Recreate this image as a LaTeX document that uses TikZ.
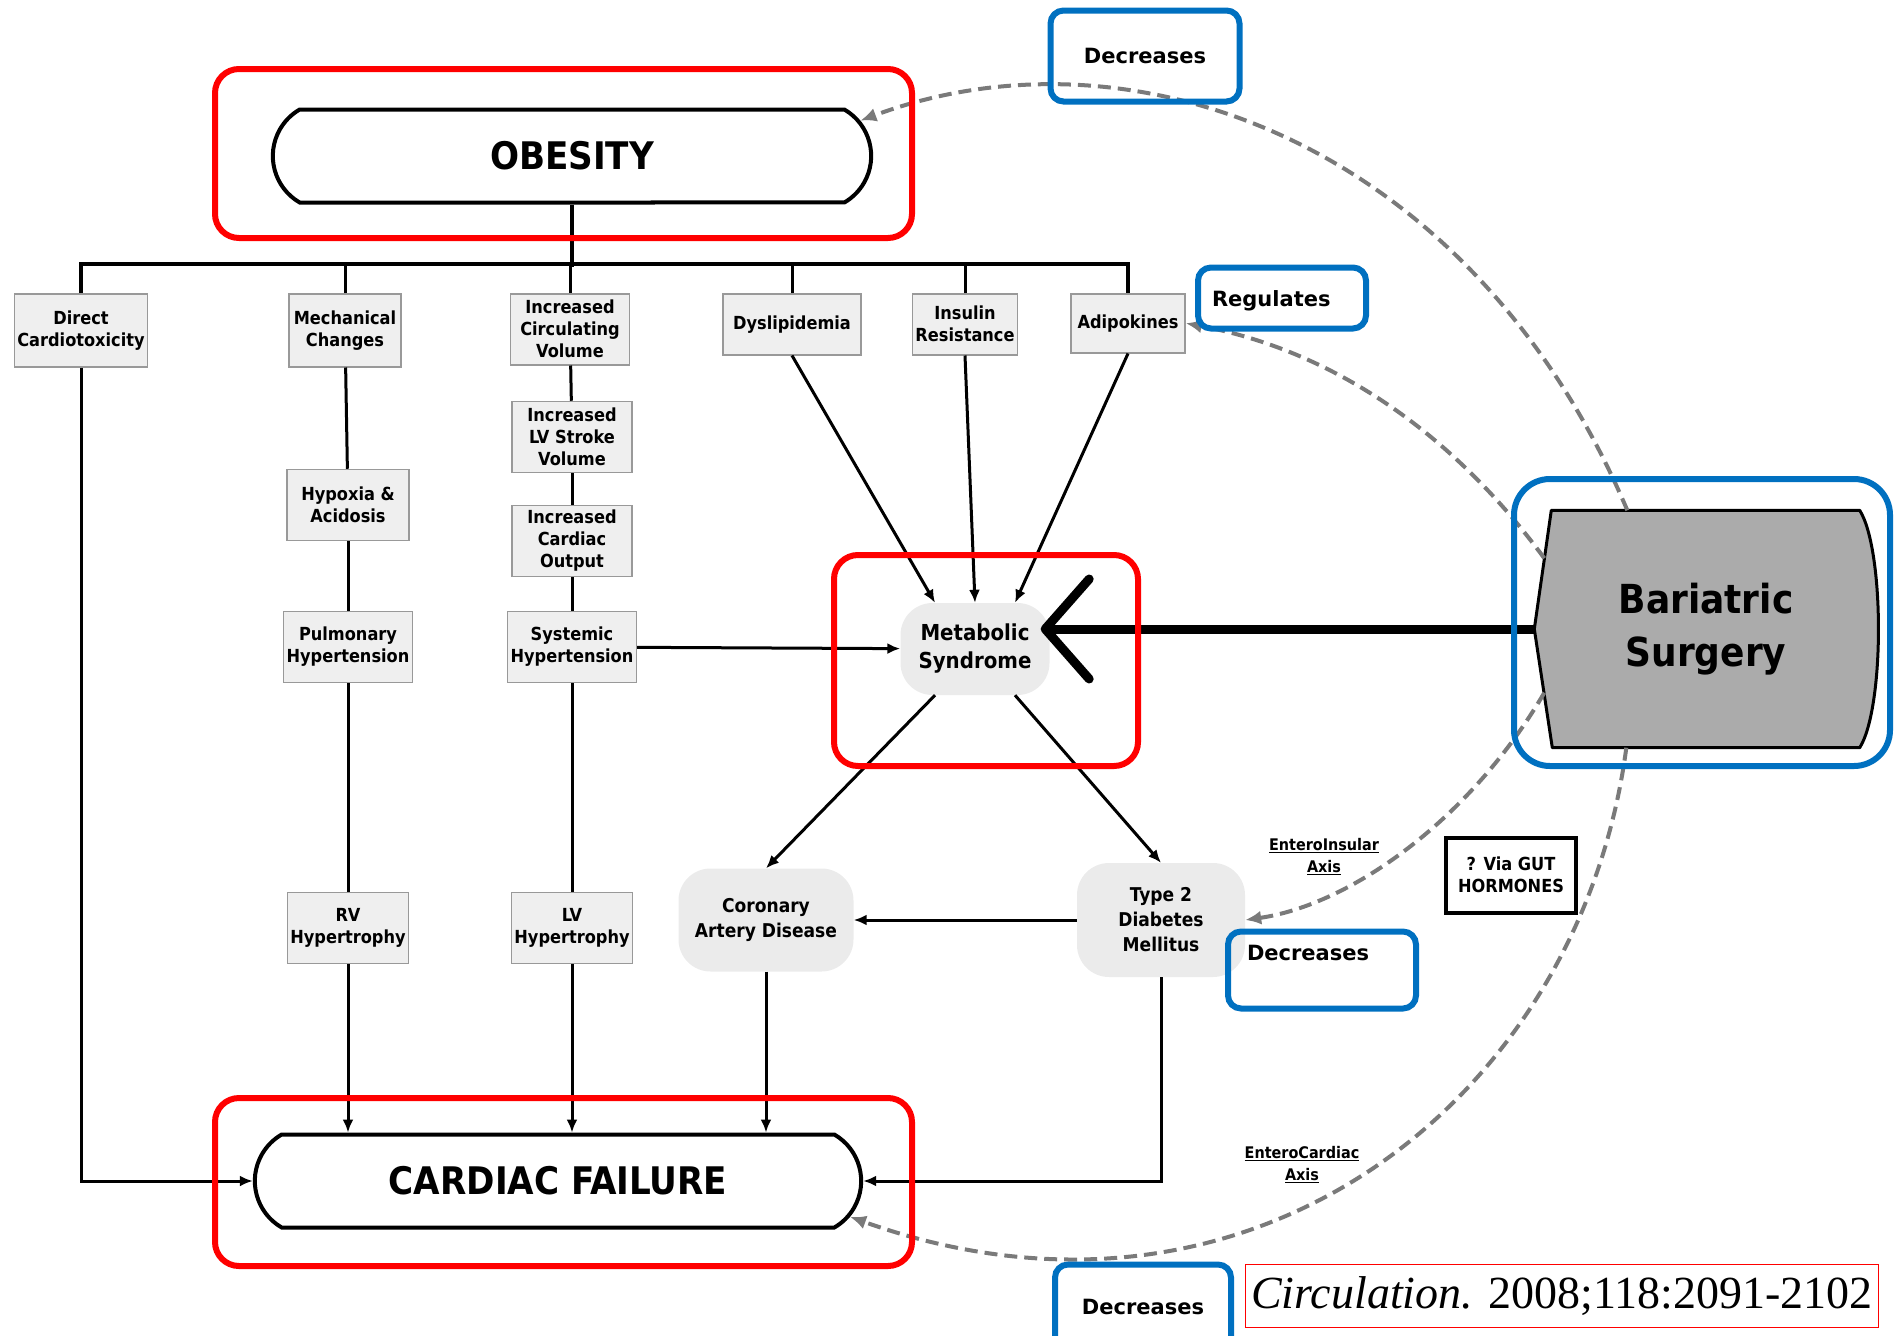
\documentclass[tikz,border=0pt]{standalone}
\usepackage{fontspec}
\setmainfont{DejaVu Sans}
\newfontfamily\condfont{DejaVu Sans Condensed}
\newfontfamily\citefont{Liberation Serif}
\usetikzlibrary{arrows.meta, positioning, shapes.misc}
\pgfdeclarelayer{background}
\pgfsetlayers{background,main}

\definecolor{boxgray}{HTML}{EFEFEF}
\definecolor{edgegray}{HTML}{999999}
\definecolor{blobgray}{HTML}{EBEBEB}
\definecolor{surgerygray}{HTML}{ABABAB}
\definecolor{dashgray}{HTML}{7A7A7A}
\definecolor{markblue}{HTML}{0070C0}
\definecolor{markred}{HTML}{FF0000}

\tikzstyle{factor} = [rectangle, draw=edgegray, line width=1.5pt, fill=boxgray, align=center, inner sep=3pt, minimum height=71pt, font=\condfont\bfseries\fontsize{18}{22}\selectfont]
\tikzstyle{blob} = [rectangle, fill=blobgray, rounded corners=32pt, align=center, font=\condfont\bfseries\fontsize{19}{25}\selectfont]
\tikzstyle{stadium} = [rounded rectangle, rounded rectangle arc length=120, draw, line width=4pt, fill=white, minimum height=93pt, font=\condfont\bfseries\fontsize{38}{44}\selectfont]
\tikzstyle{link} = [line width=3pt]
\tikzstyle{arrow} = [line width=3pt, -{Latex[length=13pt,width=11pt]}]
\tikzstyle{effect} = [dashgray, line width=4pt, dash pattern=on 13pt off 7pt, -{Latex[length=16pt,width=14pt]}]
\tikzstyle{bluetag} = [draw=markblue, line width=6pt, rounded corners=13pt, align=center, font=\bfseries\fontsize{21}{25}\selectfont]
\tikzstyle{redframe} = [draw=markred, line width=6pt, rounded corners=24pt]
\tikzstyle{axislabel} = [align=center, font=\condfont\bfseries\fontsize{16}{22}\selectfont]

\begin{document}
\begin{tikzpicture}[x=1pt, y=1pt]
        \useasboundingbox (0,0) rectangle (1901,-1336);

        % Main nodes
        \node (obesity) [stadium, minimum width=605pt] at (572,-156) {OBESITY};
        \node (cardiac) [stadium, minimum width=613pt] at (558,-1181) {CARDIAC FAILURE};

        % Factors hanging from the bus
        \node (direct) [factor, anchor=north, minimum width=132pt, minimum height=73pt] at (81,-293) {Direct\\Cardiotoxicity};
        \node (mech) [factor, anchor=north, minimum width=112pt, minimum height=73pt] at (345,-293) {Mechanical\\Changes};
        \node (circ) [factor, anchor=north, minimum width=119pt] at (570,-293) {Increased\\Circulating\\Volume};
        \node (dys) [factor, anchor=north, minimum width=138pt, minimum height=61pt] at (792,-293) {Dyslipidemia};
        \node (insulin) [factor, anchor=north, minimum width=102pt, minimum height=61pt] at (965,-293) {Insulin\\Resistance};
        \node (adipo) [factor, anchor=north, minimum width=114pt, minimum height=59pt] at (1128,-293) {Adipokines};

        % Columns
        \node (hypoxia) [factor, minimum width=122pt] at (348,-505) {Hypoxia \&\\Acidosis};
        \node (pulm) [factor, minimum width=128pt] at (348,-647) {Pulmonary\\Hypertension};
        \node (rv) [factor, minimum width=118pt] at (348,-928) {RV\\Hypertrophy};
        \node (stroke) [factor, minimum width=120pt] at (572,-437) {Increased\\LV Stroke\\Volume};
        \node (output) [factor, minimum width=120pt] at (572,-541) {Increased\\Cardiac\\Output};
        \node (systemic) [factor, minimum width=127pt] at (572,-647) {Systemic\\Hypertension};
        \node (lv) [factor, minimum width=120pt] at (572,-928) {LV\\Hypertrophy};

        % Metabolic cluster
        \node (metabolic) [blob, minimum width=149pt, minimum height=92pt, font=\condfont\bfseries\fontsize{22}{28}\selectfont] at (975,-649) {Metabolic\\Syndrome};
        \node (coronary) [blob, minimum width=175pt, minimum height=103pt] at (766,-920) {Coronary\\Artery Disease};
        \node (type2) [blob, minimum width=168pt, minimum height=114pt] at (1161,-920) {Type 2\\Diabetes\\Mellitus};

        % Bariatric surgery
        \node (bariatric) [minimum width=343pt, minimum height=237pt, align=center, font=\condfont\bfseries\fontsize{40}{53}\selectfont] at (1706,-629) {Bariatric\\Surgery};
        \begin{pgfonlayer}{background}
        \draw [fill=surgerygray, line width=3pt, line join=round] ([xshift=17pt]bariatric.north west) -- ([xshift=-18pt]bariatric.north east) .. controls ([xshift=7pt,yshift=-40pt]bariatric.north east) and ([xshift=7pt,yshift=40pt]bariatric.south east) .. ([xshift=-18pt]bariatric.south east) -- ([xshift=18pt]bariatric.south west) -- (bariatric.west) -- cycle;
        \end{pgfonlayer}

        % Bus
        \draw [link, line width=4.5pt] (obesity.south) -- ++(0,-62);
        \draw [link, line width=4.5pt] (direct.north) -- ++(0,29) -| (adipo.north);
        \foreach \f in {mech, circ, dys, insulin} \draw [link] (\f.north) -- ++(0,29);

        % Chains down to cardiac failure
        \draw [link] (mech) -- (hypoxia);
        \draw [link] (hypoxia) -- (pulm);
        \draw [link] (pulm) -- (rv);
        \draw [link] (circ) -- (stroke);
        \draw [link] (stroke) -- (output);
        \draw [link] (output) -- (systemic);
        \draw [link] (systemic) -- (lv);
        \draw [arrow] (rv) -- (rv |- cardiac.north);
        \draw [arrow] (lv) -- (lv |- cardiac.north);
        \draw [arrow] (coronary) -- (coronary |- cardiac.north);
        \draw [arrow] (direct.south) |- (cardiac.west);
        \draw [arrow] (type2.south) |- (cardiac.east);

        % Arrows around metabolic syndrome
        \draw [arrow] (dys.south) -- ([xshift=-40pt]metabolic.north);
        \draw [arrow] (insulin.south) -- (metabolic.north);
        \draw [arrow] (adipo.south) -- ([xshift=40pt]metabolic.north);
        \draw [arrow] (systemic) -- (metabolic);
        \draw [arrow] ([xshift=-40pt]metabolic.south) -- (coronary.north);
        \draw [arrow] ([xshift=40pt]metabolic.south) -- (type2.north);
        \draw [arrow] (type2) -- (coronary);
        \draw [line width=9pt, shorten >=-9pt, -{Straight Barb[length=44pt, width=100pt, round]}] (bariatric.west) -- (bariatric.west -| metabolic.east);

        % Effects of surgery
        \draw [effect] ([xshift=93pt]bariatric.north west) .. controls (1470,-140) and (1130,-20) .. (obesity.7);
        \draw [effect] ([xshift=10pt,yshift=-48pt]bariatric.north west) .. controls (1450,-430) and (1330,-350) .. (adipo.east);
        \draw [effect] ([xshift=10pt,yshift=55pt]bariatric.south west) .. controls (1470,-820) and (1350,-905) .. (type2.east);
        \draw [effect] ([xshift=92pt]bariatric.south west) .. controls (1580,-1100) and (1250,-1360) .. (cardiac.-7);

        \node (insular) [axislabel] at (1324,-857) {\underline{EnteroInsular}\\\underline{Axis}};
        \node (cardioaxis) [axislabel] at (1302,-1165) {\underline{EnteroCardiac}\\\underline{Axis}};
        \node (gut) [draw, line width=4pt, fill=white, minimum width=130pt, minimum height=75pt, align=center, font=\condfont\bfseries\fontsize{18}{22}\selectfont] at (1511,-875) {? Via GUT\\HORMONES};

        % Highlights
        \node (dectop) [bluetag, minimum width=189pt, minimum height=91pt] at (1145,-56) {Decreases};
        \node (regulates) [bluetag, minimum width=168pt, minimum height=61pt, text width=140pt, align=left, text height=18pt, text depth=2pt] at (1282,-298) {Regulates};
        \node (decmid) [bluetag, minimum width=188pt, minimum height=77pt, text width=150pt, align=left, text height=15pt, text depth=34pt] at (1322,-970) {Decreases};
        \node (decbottom) [bluetag, minimum width=176pt, minimum height=85pt] at (1143,-1307) {Decreases};
        \draw [draw=markblue, line width=6pt, rounded corners=36pt] (1514,-479) rectangle (1890,-766);
        \draw [redframe] (215,-69) rectangle (912,-238);
        \draw [redframe] (834,-555) rectangle (1138,-766);
        \draw [redframe] (215,-1098) rectangle (912,-1266);

        \node (cite) [draw=markred, line width=1.5pt, minimum width=633pt, minimum height=63pt] at (1562,-1296) {\citefont\fontsize{46}{50}\selectfont\textit{Circulation.} 2008;118:2091-2102};
\end{tikzpicture}
\end{document}
